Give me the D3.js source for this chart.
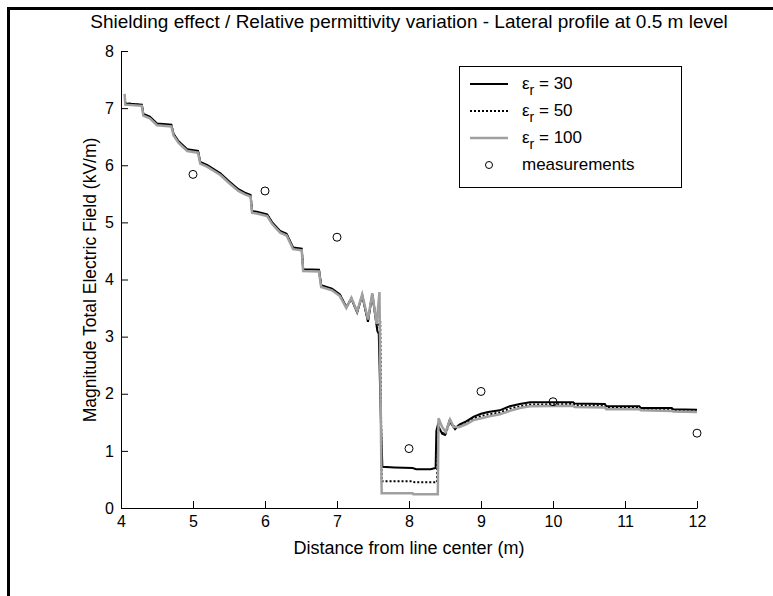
<!DOCTYPE html>
<html><head><meta charset="utf-8">
<script src="https://cdn.jsdelivr.net/npm/d3@7"></script>
<style>body{margin:0;background:#fff}svg text{font-family:"Liberation Sans",Arial,sans-serif;fill:#000}</style>
</head><body><svg id="c" width="773" height="596"></svg>
<script>
const xTicks = [4,5,6,7,8,9,10,11,12];
const yTicks = [0,1,2,3,4,5,6,7,8];
const titleText = "Shielding effect / Relative permittivity variation - Lateral profile at 0.5 m level";
const xLabel = "Distance from line center (m)";
const yLabel = "Magnitude Total Electric Field (kV/m)";
const seriesNames = ["30","50","100"];
const e30 = [[4.05,7.10],[4.07,7.08],[4.29,7.06],[4.31,6.90],[4.40,6.85],[4.50,6.73],[4.70,6.71],[4.73,6.55],[4.80,6.42],[4.92,6.28],[5.07,6.25],[5.10,6.06],[5.20,6.00],[5.38,5.86],[5.50,5.72],[5.63,5.58],[5.72,5.52],[5.80,5.48],[5.82,5.20],[5.90,5.18],[6.03,5.14],[6.10,5.00],[6.21,4.85],[6.30,4.80],[6.39,4.56],[6.51,4.54],[6.53,4.18],[6.75,4.17],[6.78,3.90],[6.93,3.84],[7.04,3.74],[7.13,3.52],[7.20,3.66],[7.28,3.42],[7.35,3.72],[7.43,3.26],[7.49,3.74],[7.56,3.10],[7.58,3.05],[7.61,1.5],[7.63,0.72],[7.80,0.71],[8.05,0.70],[8.10,0.68],[8.30,0.68],[8.37,0.70],[8.38,1.35],[8.40,1.45],[8.46,1.30],[8.50,1.28],[8.56,1.52],[8.60,1.45],[8.64,1.38],[8.70,1.46],[8.80,1.52],[8.90,1.60],[9.00,1.65],[9.10,1.68],[9.26,1.71],[9.40,1.78],[9.54,1.82],[9.68,1.85],[10.28,1.85],[10.30,1.83],[10.72,1.82],[10.74,1.78],[11.20,1.78],[11.22,1.75],[11.65,1.75],[11.67,1.73],[12.0,1.72]];
const e50 = [[4.05,7.09],[4.29,7.05],[4.31,6.89],[4.40,6.84],[4.50,6.72],[4.70,6.70],[4.73,6.54],[4.80,6.41],[4.92,6.27],[5.07,6.24],[5.10,6.05],[5.20,5.99],[5.38,5.85],[5.50,5.71],[5.63,5.57],[5.72,5.51],[5.80,5.47],[5.82,5.19],[5.90,5.17],[6.03,5.13],[6.10,4.99],[6.21,4.84],[6.30,4.79],[6.39,4.55],[6.51,4.53],[6.53,4.17],[6.75,4.16],[6.78,3.89],[6.93,3.83],[7.04,3.73],[7.13,3.51],[7.20,3.67],[7.28,3.43],[7.35,3.73],[7.43,3.28],[7.49,3.75],[7.56,3.15],[7.60,3.30],[7.62,0.47],[8.05,0.47],[8.08,0.45],[8.39,0.45],[8.40,1.40],[8.46,1.32],[8.51,1.30],[8.57,1.53],[8.62,1.43],[8.70,1.44],[8.80,1.49],[8.90,1.57],[9.00,1.61],[9.10,1.64],[9.26,1.67],[9.40,1.74],[9.54,1.78],[9.68,1.81],[10.28,1.82],[10.30,1.80],[10.72,1.79],[10.74,1.76],[11.20,1.76],[11.22,1.73],[11.65,1.73],[11.67,1.71],[12.0,1.70]];
const e100 = [[4.05,7.25],[4.06,7.06],[4.29,7.04],[4.31,6.87],[4.40,6.82],[4.50,6.70],[4.70,6.68],[4.73,6.52],[4.80,6.39],[4.92,6.25],[5.07,6.22],[5.10,6.03],[5.20,5.97],[5.38,5.83],[5.50,5.69],[5.63,5.55],[5.72,5.49],[5.80,5.45],[5.82,5.17],[5.90,5.15],[6.03,5.11],[6.10,4.97],[6.21,4.82],[6.30,4.77],[6.39,4.53],[6.51,4.51],[6.53,4.15],[6.75,4.14],[6.78,3.87],[6.93,3.81],[7.04,3.71],[7.13,3.50],[7.20,3.68],[7.28,3.44],[7.35,3.74],[7.43,3.30],[7.49,3.76],[7.55,3.22],[7.59,3.78],[7.62,0.26],[8.05,0.26],[8.06,0.24],[8.40,0.24],[8.41,1.57],[8.46,1.42],[8.51,1.33],[8.57,1.55],[8.62,1.42],[8.70,1.42],[8.80,1.47],[8.90,1.54],[9.00,1.57],[9.10,1.60],[9.26,1.64],[9.40,1.70],[9.54,1.75],[9.68,1.78],[10.28,1.79],[10.30,1.77],[10.72,1.76],[10.74,1.73],[11.20,1.73],[11.22,1.71],[11.65,1.70],[11.67,1.69],[12.0,1.68]];
const measX = [5,6,7,8,9,10,12];
const measY = [5.84,5.55,4.74,1.04,2.04,1.86,1.31];

const svg = d3.select("#c");
const x = d3.scaleLinear().domain([4,12]).range([121,697]);
const y = d3.scaleLinear().domain([0,8]).range([508,51]);

// frame
svg.append("line").attr("x1",8).attr("y1",8.5).attr("x2",773).attr("y2",8.5).attr("stroke","#000").attr("stroke-width",3);
svg.append("line").attr("x1",8.5).attr("y1",7).attr("x2",8.5).attr("y2",596).attr("stroke","#000").attr("stroke-width",3);

svg.append("text").attr("x",409).attr("y",28).attr("text-anchor","middle").style("font-size","19px").text(titleText);

const gx = svg.append("g").attr("transform","translate(0,508)")
  .call(d3.axisBottom(x).tickValues(xTicks).tickSize(-7).tickSizeOuter(0).tickPadding(8).tickFormat(d3.format("d")));
const gy = svg.append("g").attr("transform","translate(121,0)")
  .call(d3.axisLeft(y).tickValues(yTicks).tickSize(-7).tickSizeOuter(0).tickPadding(7).tickFormat(d3.format("d")));
[gx,gy].forEach(g=>{g.selectAll("text").style("font-size","16px").attr("fill","#000");g.selectAll("line,path").attr("stroke","#000");});

svg.append("text").attr("x",409).attr("y",554).attr("text-anchor","middle").style("font-size","18px").text(xLabel);
svg.append("text").attr("transform","translate(96,280) rotate(-90)").attr("text-anchor","middle").style("font-size","17.5px").text(yLabel);

const line = d3.line().x(d=>x(d[0])).y(d=>y(d[1]));
const plot = svg.append("g");
plot.append("path").datum(e30).attr("d",line).attr("fill","none").attr("stroke","#000").attr("stroke-width",2);
plot.append("path").datum(e50).attr("d",line).attr("fill","none").attr("stroke","#000").attr("stroke-width",2).attr("stroke-dasharray","2,2");
plot.append("path").datum(e100).attr("d",line).attr("fill","none").attr("stroke","#a0a0a0").attr("stroke-width",2.5);
plot.selectAll("circle").data(measX).join("circle").attr("cx",d=>x(d)).attr("cy",(d,i)=>y(measY[i])).attr("r",4)
  .attr("fill","none").attr("stroke","#000").attr("stroke-width",1);

// legend
const lg = svg.append("g");
lg.append("rect").attr("x",459.5).attr("y",66.5).attr("width",222).attr("height",121).attr("fill","#fff").attr("stroke","#000");
const styles = [{c:"#000",w:2,d:null},{c:"#000",w:2,d:"2,2"},{c:"#a0a0a0",w:2.5,d:null}];
const rowY = [84,111,138,165];
seriesNames.forEach((n,i)=>{
  lg.append("line").attr("x1",470).attr("x2",508).attr("y1",rowY[i]).attr("y2",rowY[i]).attr("stroke",styles[i].c).attr("stroke-width",styles[i].w).attr("stroke-dasharray",styles[i].d);
  const t = lg.append("text").attr("x",522).attr("y",rowY[i]+5).style("font-size","17px");
  t.append("tspan").text("ε");
  t.append("tspan").attr("dy",6).style("font-size","14px").text("r");
  t.append("tspan").attr("dy",-6).text(" = "+n);
});
lg.append("circle").attr("cx",489).attr("cy",rowY[3]).attr("r",3.5).attr("fill","none").attr("stroke","#000");
lg.append("text").attr("x",522).attr("y",rowY[3]+5).style("font-size","17px").text("measurements");
</script></body></html>
